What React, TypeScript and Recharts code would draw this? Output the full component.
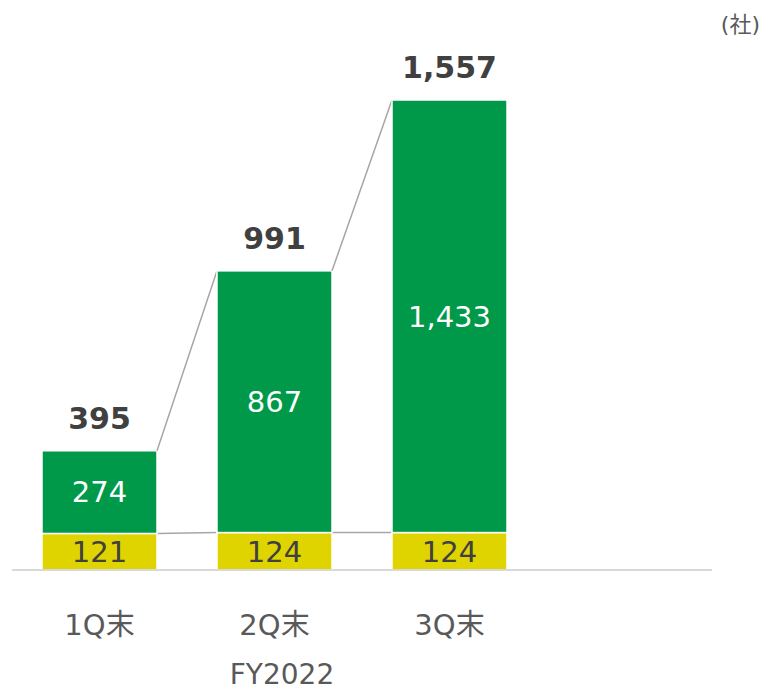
// Stacked bars of company counts by quarter end, with series connector lines.

import { BarChart, Bar, XAxis, YAxis, LabelList } from "recharts";

const categories = ["1Q末", "2Q末", "3Q末", ""];
const existing = [121, 124, 124];
const added = [274, 867, 1433];
const totals = [395, 991, 1557];

const W = 771;
const H = 691;
const MARGIN = { top: 100, right: 59, left: 12, bottom: 61 };
const BAR_SIZE = 115;
const GAP = (W - MARGIN.left - MARGIN.right) / categories.length - BAR_SIZE;

const data = categories.map((name, i) => ({
  name,
  base: existing[i],
  add: added[i],
  total: totals[i],
}));

const FONT = "'DejaVu Sans', 'Noto Sans CJK JP', sans-serif";
const LINE = "#a6a6a6";
const GREY = "#595959";
const DARK = "#404040";

function BaseShape(props: any) {
  const { x, y, width, height, index, fill } = props;
  const next = data[index + 1];
  const scale = height / data[index].base;
  const bottom = y + height;
  return (
    <g>
      <rect x={x} y={y} width={width} height={height} fill={fill} stroke="#fff" strokeWidth={1.5} />
      {next && next.base != null && (
        <line
          x1={x + width}
          y1={y}
          x2={x + width + GAP}
          y2={bottom - next.base * scale}
          stroke={LINE}
          strokeWidth={1.5}
        />
      )}
    </g>
  );
}

function AddShape(props: any) {
  const { x, y, width, height, index, fill } = props;
  const cur = data[index];
  const next = data[index + 1];
  const scale = height / cur.add;
  const bottom = y + height + cur.base * scale;
  return (
    <g>
      <rect x={x} y={y} width={width} height={height} fill={fill} stroke="#fff" strokeWidth={1.5} />
      {next && next.total != null && (
        <line
          x1={x + width}
          y1={y}
          x2={x + width + GAP}
          y2={bottom - next.total * scale}
          stroke={LINE}
          strokeWidth={1.5}
        />
      )}
    </g>
  );
}

function Tick(props: any) {
  const { x, y, payload } = props;
  return (
    <text x={x} y={y + 65} textAnchor="middle" fill={GREY} fontSize={29} fontFamily={FONT}>
      {payload.value}
    </text>
  );
}

const fmt = (v: any) => (v == null ? "" : Number(v).toLocaleString("en-US"));

export default function App() {
  return (
    <div style={{ position: "absolute", left: 0, top: 0, width: W, height: H, fontFamily: FONT, background: "#fff", overflow: "hidden" }}>
      <BarChart width={W} height={H} data={data} margin={MARGIN}>
        <XAxis
          dataKey="name"
          axisLine={{ stroke: "#d9d9d9", strokeWidth: 2 }}
          tickLine={false}
          tickSize={0}
          tickMargin={0}
          height={60}
          tick={<Tick />}
          interval={0}
        />
        <YAxis hide domain={[0, "dataMax"]} />
        <Bar dataKey="base" stackId="s" fill="#dfd300" barSize={BAR_SIZE} shape={<BaseShape />} isAnimationActive={false}>
          <LabelList dataKey="base" position="center" fill={DARK} fontSize={29} fontFamily={FONT} formatter={fmt} />
        </Bar>
        <Bar dataKey="add" stackId="s" fill="#00994a" barSize={BAR_SIZE} shape={<AddShape />} isAnimationActive={false}>
          <LabelList dataKey="add" position="center" fill="#ffffff" fontSize={29} fontFamily={FONT} formatter={fmt} />
          <LabelList
            dataKey="total"
            position="top"
            offset={22}
            fill={DARK}
            fontSize={30}
            fontWeight="bold"
            fontFamily={FONT}
            formatter={fmt}
          />
        </Bar>
      </BarChart>
      <div
        style={{
          position: "absolute",
          right: 11,
          top: 13,
          fontSize: 22,
          lineHeight: "24px",
          color: GREY,
          whiteSpace: "nowrap",
        }}
      >
        (社)
      </div>
      <div
        style={{
          position: "absolute",
          left: 200,
          top: 661,
          width: 164,
          textAlign: "center",
          fontSize: 28,
          lineHeight: "28px",
          color: GREY,
          whiteSpace: "nowrap",
        }}
      >
        FY2022
      </div>
    </div>
  );
}
